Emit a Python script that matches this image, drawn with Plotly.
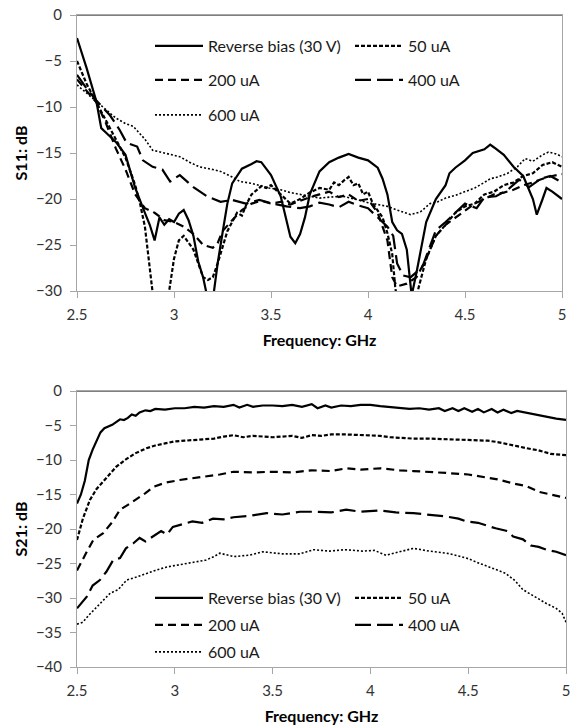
import plotly.graph_objects as go

# ---------------- S11 data (top chart) ----------------
s11_rev_f = [2.5,2.55,2.6,2.625,2.65,2.7,2.75,2.8,2.85,2.875,2.9,2.925,2.95,2.975,3.0,3.025,3.05,3.075,3.1,3.125,
             3.15,3.175,3.2,3.225,3.25,3.275,3.3,3.35,3.4,3.425,3.45,3.5,3.55,3.575,3.6,3.625,3.65,3.675,3.7,3.75,
             3.8,3.85,3.875,3.9,3.95,4.0,4.05,4.075,4.1,4.125,4.15,4.175,4.2,4.225,4.25,4.28,4.3,4.35,4.4,4.42,
             4.45,4.5,4.54,4.6,4.63,4.65,4.7,4.75,4.8,4.85,4.87,4.9,4.92,4.95,5.0]
s11_rev = [-2.5,-5.8,-9.4,-12.3,-12.8,-13.8,-15.2,-18.8,-21.5,-22.8,-24.5,-22,-22.8,-22.2,-22.5,-21.6,-21.2,-22.3,-24,-26.8,
           -28.5,-31,-31,-27,-23.7,-20.5,-18.3,-16.7,-16.2,-15.9,-16,-17.4,-19.7,-22,-24.1,-24.8,-23.8,-22,-19.5,-17,
           -16,-15.5,-15.3,-15.1,-15.5,-15.8,-16.6,-17.8,-19.5,-22.5,-23.4,-23.8,-25.5,-30.5,-28,-24.5,-22.5,-20,-18.5,-17.2,
           -16.6,-15.8,-15,-14.6,-14.1,-14.4,-15.2,-16.5,-17.5,-20,-21.7,-20,-18.8,-19.2,-20]

s11_50_f = [2.5,2.55,2.6,2.65,2.7,2.75,2.8,2.825,2.85,2.875,2.9,2.95,2.975,3.0,3.025,3.05,3.075,3.1,3.125,3.15,
            3.175,3.2,3.225,3.25,3.275,3.3,3.325,3.35,3.375,3.4,3.425,3.45,3.475,3.5,3.55,3.6,3.65,3.7,3.75,3.8,
            3.825,3.85,3.875,3.9,3.925,3.95,3.975,4.0,4.025,4.05,4.075,4.1,4.125,4.14,4.15,4.2,4.25,4.3,4.325,4.35,
            4.4,4.45,4.5,4.55,4.6,4.65,4.7,4.75,4.8,4.85,4.9,4.95,5.0]
s11_50 = [-5.0,-7.5,-9.5,-11.5,-13.5,-15.5,-18.5,-20.5,-23,-28,-32,-33,-30,-26.5,-24.5,-24,-24.8,-25.5,-27,-28.5,
          -28.8,-28.5,-27,-25.2,-23.5,-22.5,-21.5,-21.8,-20.5,-19.5,-19,-18.6,-18.8,-18.5,-19.5,-20.5,-20,-19.3,-18.8,-19,
          -18.2,-18.5,-18,-17.6,-18.5,-18.3,-19.5,-19.2,-20.5,-21.3,-22,-23.7,-26,-29.5,-31,-32,-30.5,-26.5,-25.2,-24,
          -22.8,-21.5,-20.8,-20.5,-19.5,-19.2,-18.5,-18.2,-17.5,-17.2,-16.3,-16,-16.5]

s11_200_f = [2.5,2.55,2.6,2.65,2.7,2.75,2.8,2.85,2.9,2.95,3.0,3.05,3.1,3.15,3.2,3.225,3.25,3.3,3.35,3.4,
             3.45,3.5,3.55,3.6,3.65,3.7,3.75,3.8,3.85,3.9,3.95,4.0,4.05,4.1,4.125,4.15,4.2,4.25,4.3,4.35,
             4.4,4.45,4.5,4.55,4.6,4.65,4.7,4.75,4.8,4.85,4.9,4.95,5.0]
s11_200 = [-7.0,-8.3,-9.5,-11.8,-14.5,-16.8,-19.5,-21,-21.5,-22.3,-22.5,-23,-23.8,-25,-25.3,-24.8,-23.5,-22.3,-21.2,-20.5,
           -20.2,-20.5,-20.3,-20.6,-20.2,-19.8,-19.5,-19.2,-19.8,-19.5,-20.2,-20,-21.5,-24.5,-28.5,-29.5,-29.2,-28.5,-26.5,-24,
           -22.8,-22,-21.2,-20.5,-20,-19.5,-19.3,-19,-18.5,-18.2,-17.8,-17.5,-17.3]

s11_400_f = [2.5,2.55,2.6,2.67,2.72,2.756,2.81,2.84,2.89,2.94,2.98,3.03,3.1,3.17,3.24,3.3,3.37,3.44,3.51,3.58,
             3.65,3.7,3.75,3.8,3.85,3.9,3.95,4.0,4.045,4.1,4.13,4.15,4.18,4.22,4.28,4.35,4.4,4.45,4.5,4.56,
             4.6,4.66,4.72,4.78,4.83,4.89,4.94,5.0]
s11_400 = [-6.5,-8,-9.3,-10.9,-12.5,-13.9,-14.3,-15.8,-16.5,-16.8,-18.1,-17.4,-18.7,-19.7,-20.3,-20.1,-20.5,-20.1,-20.5,-20.8,
           -21,-20.8,-20.4,-20.6,-20.9,-20.3,-20.7,-21,-21.9,-23,-24,-27,-28.3,-28.5,-27.4,-23.4,-22.5,-21.5,-20.5,-21,
           -19.8,-19.7,-19,-17.9,-18.7,-17.8,-17.5,-18.2]

s11_600_f = [2.5,2.55,2.6,2.65,2.7,2.75,2.79,2.85,2.89,2.95,3.03,3.08,3.13,3.2,3.24,3.3,3.34,3.4,3.49,3.55,
             3.6,3.65,3.7,3.75,3.8,3.87,3.95,4.0,4.05,4.1,4.15,4.22,4.27,4.32,4.36,4.4,4.45,4.5,4.55,4.6,
             4.63,4.67,4.72,4.77,4.81,4.85,4.9,4.93,4.97,5.0]
s11_600 = [-7.6,-8.5,-9.5,-10.3,-11.2,-11.8,-12.1,-13.5,-14.7,-15.0,-15.4,-16.0,-16.5,-16.8,-17,-17.6,-18.1,-18.3,-18.8,-19.0,
           -19.3,-19.5,-19.7,-19.9,-19.8,-19.7,-20.1,-20.4,-20.6,-20.8,-21.2,-21.7,-21.4,-20.5,-20.3,-19.9,-19.6,-19.2,-18.8,-18.2,
           -17.8,-17.6,-17.2,-16.5,-15.6,-15.9,-15.2,-14.9,-15.1,-15.4]

# ---------------- S21 data (bottom chart) ----------------
s21_rev_f = [2.5,2.52,2.54,2.56,2.58,2.6,2.62,2.64,2.66,2.68,2.7,2.72,2.74,2.76,2.78,2.8,2.82,2.85,2.875,2.9,
             2.95,3.0,3.05,3.1,3.15,3.2,3.25,3.3,3.33,3.37,3.4,3.45,3.5,3.55,3.6,3.65,3.7,3.73,3.77,3.8,
             3.85,3.9,3.95,4.0,4.05,4.1,4.15,4.2,4.25,4.3,4.35,4.38,4.42,4.45,4.48,4.52,4.55,4.58,4.62,4.65,
             4.68,4.72,4.75,4.8,4.85,4.9,4.95,5.0]
s21_rev = [-16.3,-15,-13,-10,-8.5,-7.2,-6,-5.4,-5.2,-4.9,-4.5,-4.1,-4.2,-3.9,-3.4,-3.6,-3.1,-2.8,-2.9,-2.6,
           -2.7,-2.5,-2.5,-2.3,-2.4,-2.2,-2.3,-2.0,-2.4,-2.0,-2.3,-2.1,-2.1,-2.2,-2.0,-2.3,-1.9,-2.5,-2.1,-2.4,
           -2.1,-2.2,-2.0,-2.0,-2.2,-2.3,-2.4,-2.6,-2.5,-2.7,-2.5,-2.9,-2.5,-2.9,-2.5,-3.0,-2.6,-3.1,-2.6,-3.1,
           -2.7,-3.2,-2.9,-3.2,-3.4,-3.8,-4.0,-4.2]

s21_50_f = [2.5,2.53,2.566,2.6,2.65,2.7,2.75,2.8,2.855,2.9,2.95,3.0,3.05,3.1,3.16,3.2,3.25,3.3,3.35,3.4,
            3.45,3.5,3.55,3.6,3.65,3.7,3.75,3.8,3.876,3.95,4.0,4.05,4.1,4.15,4.22,4.3,4.4,4.5,4.56,4.6,
            4.65,4.69,4.75,4.8,4.86,4.92,5.0]
s21_50 = [-21.6,-18.5,-15.8,-14.2,-12.6,-11,-9.9,-9,-8.3,-7.9,-7.6,-7.3,-7.2,-7.1,-6.9,-6.9,-6.6,-6.4,-6.7,-6.5,
          -6.6,-6.7,-6.6,-6.5,-6.8,-6.4,-6.5,-6.3,-6.3,-6.4,-6.4,-6.5,-6.7,-6.8,-6.9,-6.9,-7.0,-7.1,-7.1,-7.2,
          -7.4,-7.6,-8,-8.3,-8.6,-9.1,-9.3]

s21_200_f = [2.5,2.52,2.55,2.583,2.634,2.68,2.72,2.76,2.8,2.85,2.89,2.95,3.025,3.1,3.16,3.23,3.3,3.4,3.5,3.6,
             3.7,3.8,3.876,3.95,4.05,4.15,4.22,4.3,4.4,4.5,4.56,4.65,4.73,4.8,4.86,4.92,4.98,5.0]
s21_200 = [-26,-25,-23.3,-21.6,-20.6,-19,-17.2,-16.5,-15.8,-14.8,-13.9,-13.3,-12.9,-12.6,-12.4,-12.1,-11.7,-11.8,-11.7,-11.8,
           -11.5,-11.6,-11.2,-11.4,-11.2,-11.5,-11.6,-11.7,-11.9,-12.1,-12.4,-12.8,-13.4,-13.8,-14.6,-15,-15.3,-15.5]

s21_400_f = [2.5,2.52,2.55,2.58,2.617,2.65,2.685,2.72,2.75,2.787,2.82,2.85,2.89,2.93,2.96,2.99,3.04,3.09,3.14,3.195,
             3.25,3.3,3.38,3.47,3.55,3.64,3.71,3.8,3.876,3.95,4.05,4.13,4.22,4.3,4.39,4.45,4.49,4.55,4.64,4.7,
             4.73,4.78,4.82,4.86,4.9,4.95,5.0]
s21_400 = [-31.5,-30.8,-29.8,-28.2,-27.4,-26.2,-24.5,-24.2,-22.8,-22.1,-21.3,-21.8,-21.1,-20.3,-20.8,-19.7,-19.3,-18.9,-19.1,-18.5,
           -18.6,-18.3,-18.1,-17.7,-17.9,-17.5,-17.5,-17.6,-17.2,-17.5,-17.3,-17.6,-17.7,-17.9,-18.2,-18.5,-18.9,-19.1,-19.9,-20.3,
           -21.1,-21.5,-22.4,-22.6,-23.0,-23.3,-23.8]

s21_600_f = [2.5,2.53,2.56,2.6,2.63,2.67,2.71,2.754,2.8,2.855,2.9,2.96,3.0,3.06,3.1,3.16,3.2,3.23,3.3,3.38,
             3.45,3.55,3.64,3.71,3.79,3.87,3.96,4.02,4.08,4.15,4.22,4.3,4.39,4.45,4.5,4.56,4.62,4.69,4.74,4.78,
             4.84,4.9,4.95,4.98,5.0]
s21_600 = [-33.8,-33.5,-32.5,-31.3,-30.5,-29.3,-28.8,-27.4,-27.0,-26.4,-26.0,-25.5,-25.3,-25.0,-24.9,-24.5,-24.0,-23.5,-24.0,-23.8,
           -23.3,-23.6,-23.6,-23.0,-23.2,-23.0,-23.2,-23.1,-23.8,-23.3,-22.8,-23.2,-23.5,-23.9,-24.3,-25.0,-25.6,-26.4,-27.5,-28.8,
           -29.8,-30.8,-31.5,-32.2,-33.5]

series_names = ["Reverse bias (30 V)", "50 uA", "200 uA", "400 uA", "600 uA"]
s11_series = [(s11_rev_f, s11_rev), (s11_50_f, s11_50), (s11_200_f, s11_200), (s11_400_f, s11_400), (s11_600_f, s11_600)]
s21_series = [(s21_rev_f, s21_rev), (s21_50_f, s21_50), (s21_200_f, s21_200), (s21_400_f, s21_400), (s21_600_f, s21_600)]

x_ticks = [2.5, 3, 3.5, 4, 4.5, 5]
s11_ticks = [0, -5, -10, -15, -20, -25, -30]
s21_ticks = [0, -5, -10, -15, -20, -25, -30, -35, -40]

styles = [
    dict(color="black", width=2.2, dash="solid"),
    dict(color="black", width=2.2, dash="4px,2px"),
    dict(color="black", width=2.2, dash="8px,5px"),
    dict(color="black", width=2.2, dash="16px,6px"),
    dict(color="black", width=1.6, dash="2px,2px"),
]

W, H = 571, 725
FONT = "Lato"

fig = go.Figure()

# legend entry placement (pixels: legend box left x / row centre y)
col_x = [150, 350]
top_rows = [46, 80, 115]
bot_rows = [598, 625, 652]
slot = [(0, 0), (1, 0), (0, 1), (1, 1), (0, 2)]

legend_layouts = {}
for i, (name, (fx, fy)) in enumerate(zip(series_names, s11_series)):
    lg = "legend" if i == 0 else f"legend{i + 1}"
    fig.add_trace(go.Scatter(x=fx, y=fy, mode="lines", name=name, line=styles[i],
                             xaxis="x", yaxis="y", legend=lg, hoverinfo="skip"))
    c, r = slot[i]
    legend_layouts[lg] = dict(x=col_x[c] / W, y=1 - top_rows[r] / H)

for i, (name, (fx, fy)) in enumerate(zip(series_names, s21_series)):
    lg = f"legend{i + 6}"
    fig.add_trace(go.Scatter(x=fx, y=fy, mode="lines", name=name, line=styles[i],
                             xaxis="x2", yaxis="y2", legend=lg, hoverinfo="skip"))
    c, r = slot[i]
    legend_layouts[lg] = dict(x=col_x[c] / W, y=1 - bot_rows[r] / H)

for lg, pos in legend_layouts.items():
    fig.update_layout({lg: dict(x=pos["x"], y=pos["y"], xanchor="left", yanchor="middle",
                                bgcolor="rgba(0,0,0,0)", borderwidth=0,
                                font=dict(family=FONT, size=16, color="#1a1a1a"),
                                itemwidth=48, tracegroupgap=0, visible=True)})

axis_common = dict(showgrid=False, zeroline=False, showline=True, linecolor="#a6a6a6", linewidth=1,
                   ticks="outside", ticklen=6, tickcolor="#a6a6a6", automargin=False,
                   tickfont=dict(family=FONT, size=15, color="#333333"), mirror=True)

title_font = dict(family=FONT, size=16, color="black")

fig.update_layout(
    width=W, height=H,
    showlegend=True,
    margin=dict(l=0, r=0, t=0, b=0, pad=0),
    paper_bgcolor="white", plot_bgcolor="white",
    xaxis=dict(domain=[77 / W, 562 / W], anchor="y", range=[2.5, 5], tickvals=x_ticks, ticklabelstandoff=4,
               title=dict(text="<b>Frequency: GHz</b>", font=title_font, standoff=12),
               **axis_common),
    yaxis=dict(domain=[1 - 291 / H, 1 - 15 / H], anchor="x", range=[-30, 0], tickvals=s11_ticks, ticklabelstandoff=5,
               title=dict(text="<b>S11: dB</b>", font=title_font, standoff=4),
               **axis_common),
    xaxis2=dict(domain=[77 / W, 566 / W], anchor="y2", range=[2.5, 5], tickvals=x_ticks, ticklabelstandoff=4,
                title=dict(text="<b>Frequency: GHz</b>", font=title_font, standoff=12),
                **axis_common),
    yaxis2=dict(domain=[1 - 667 / H, 1 - 391 / H], anchor="x2", range=[-40, 0], tickvals=s21_ticks, ticklabelstandoff=5,
                title=dict(text="<b>S21: dB</b>", font=title_font, standoff=4),
                **axis_common),
    shapes=[
        dict(type="line", xref="x domain", yref="y", x0=0, x1=1, y0=0, y1=0, line=dict(color="black", width=1)),
        dict(type="line", xref="x2 domain", yref="y2", x0=0, x1=1, y0=0, y1=0, line=dict(color="black", width=1)),
    ],
)

fig.write_html("out.html", config={"displayModeBar": False},
               post_script="document.body.style.margin='0';document.body.style.overflow='hidden';")
